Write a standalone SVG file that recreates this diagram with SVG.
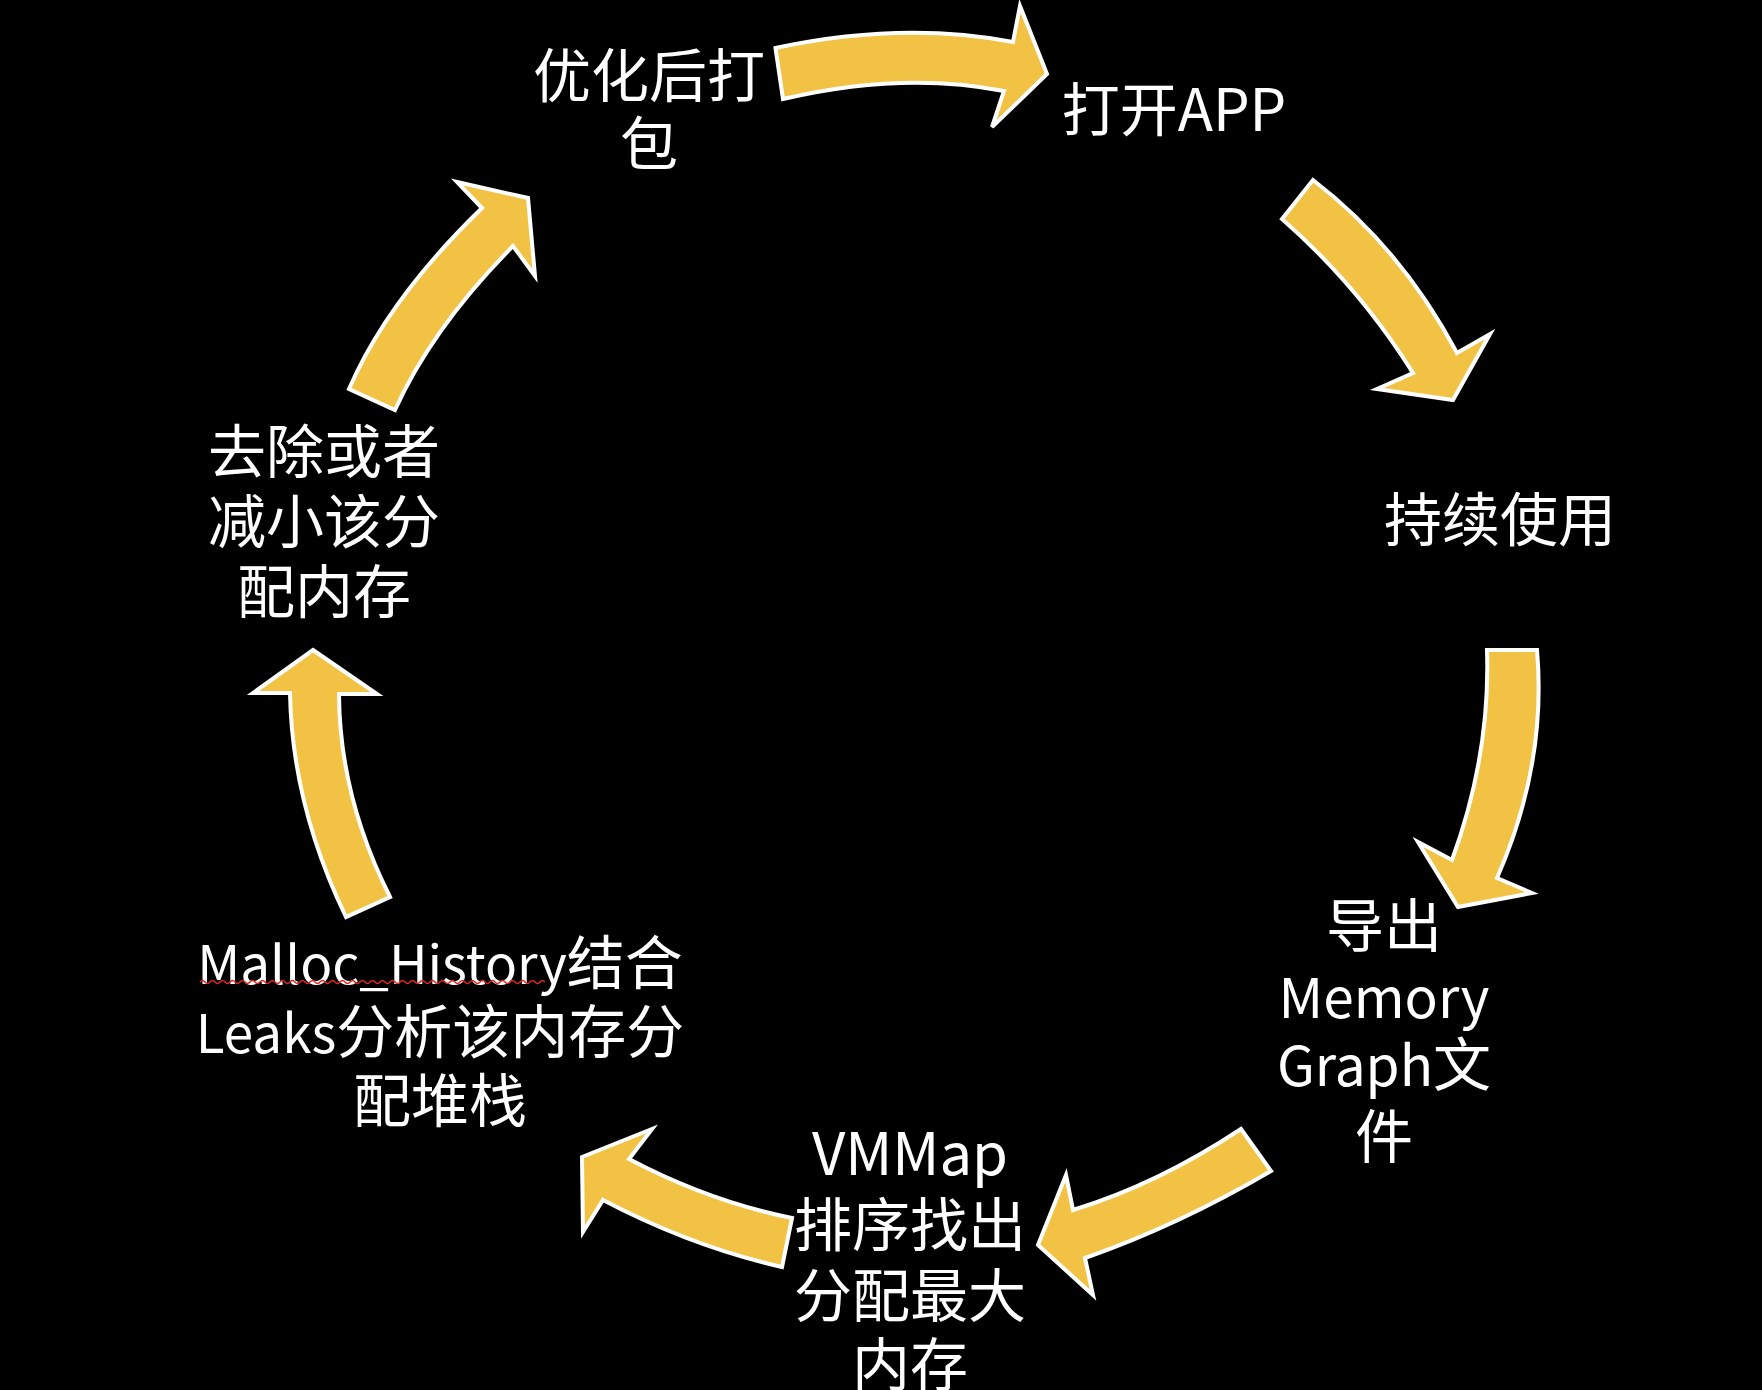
<svg xmlns="http://www.w3.org/2000/svg" width="1762" height="1390" viewBox="0 0 1762 1390">
<style>
.arr{fill:#F2C244;stroke:#FFFFFF;stroke-width:4;stroke-linejoin:miter}
.t{fill:#FFFFFF;font-family:"Noto Sans CJK SC","Noto Sans",sans-serif;font-size:58px;text-anchor:middle}
.lat{font-size:55px}
.lat2{font-size:53px}
</style>
<rect width="1762" height="1390" fill="#000000"/>
<g id="connectors">
<path class="arr" d="M 775.5,48 Q 902,21 1013,42 L 1020,6 L 1047,74 L 992,127 L 1004,91 Q 902.5,71 783,99 Z"/>
<path class="arr" d="M 1313,180 Q 1401,247.5 1457,353 L 1490,334 L 1453,400 L 1377,389 L 1413,373 Q 1358.5,286 1282,219 Z"/>
<path class="arr" d="M 1487,650 L 1537,650 Q 1547,764 1497,878 L 1532,893 L 1458,907 L 1418,842 L 1452,860 Q 1490.5,755 1487,650 Z"/>
<path class="arr" d="M 1241,1129 L 1271,1171 Q 1178,1225.5 1085,1258 L 1093,1295 L 1038,1245 L 1066,1175 L 1073,1210 Q 1157,1184.5 1241,1129 Z"/>
<path class="arr" d="M 792,1218 L 782,1267 Q 691.5,1246.5 603,1200 L 583,1232 L 582,1157 L 652,1129 L 629,1159 Q 709.5,1201.5 792,1218 Z"/>
<path class="arr" d="M 313,650 L 377,694 L 339,694 Q 339.5,796.5 390,897 L 346,917 Q 292,805 290,693 L 253,693 Z"/>
<path class="arr" d="M 349,389 Q 388,299 482,208 L 457,182 L 528,198 L 535,276 L 513,246 Q 432,328 395,410 Z"/>
</g>
<g id="node-package">
<text class="t" x="649" y="97">优化后打</text>
<text class="t" x="649" y="165">包</text>
</g>
<g id="node-open">
<text class="t" x="1174" y="131">打开APP</text>
</g>
<g id="node-use">
<text class="t" x="1500" y="541">持续使用</text>
</g>
<g id="node-export">
<text class="t" x="1384" y="947">导出</text>
<text class="t lat" x="1384" y="1018">Memory</text>
<text class="t" x="1384" y="1086"><tspan class="lat">Graph</tspan>文</text>
<text class="t" x="1384" y="1158">件</text>
</g>
<g id="node-vmmap">
<text class="t" x="910" y="1175">VMMap</text>
<text class="t" x="910" y="1246">排序找出</text>
<text class="t" x="910" y="1317">分配最大</text>
<text class="t" x="910" y="1386">内存</text>
</g>
<g id="node-malloc">
<text class="t" x="440" y="984"><tspan class="lat2">Malloc_History</tspan>结合</text>
<text class="t" x="440" y="1053"><tspan class="lat2">Leaks</tspan>分析该内存分</text>
<text class="t" x="440" y="1122">配堆栈</text>
<path d="M 200,982 q 2.5,-3 5,0 t 5,0 t 5,0 t 5,0 t 5,0 t 5,0 t 5,0 t 5,0 t 5,0 t 5,0 t 5,0 t 5,0 t 5,0 t 5,0 t 5,0 t 5,0 t 5,0 t 5,0 t 5,0 t 5,0 t 5,0 t 5,0 t 5,0 t 5,0 t 5,0 t 5,0 t 5,0 t 5,0 t 5,0 t 5,0 t 5,0 t 5,0 t 5,0 t 5,0 t 5,0 t 5,0 t 5,0 t 5,0 t 5,0 t 5,0 t 5,0 t 5,0 t 5,0 t 5,0 t 5,0 t 5,0 t 5,0 t 5,0 t 5,0 t 5,0 t 5,0 t 5,0 t 5,0 t 5,0 t 5,0 t 5,0 t 5,0 t 5,0 t 5,0 t 5,0 t 5,0 t 5,0 t 5,0 t 5,0 t 5,0 t 5,0 t 5,0 t 5,0 t 5,0" fill="none" stroke="#E0281E" stroke-width="1.5"/>
</g>
<g id="node-reduce">
<text class="t" x="324" y="473">去除或者</text>
<text class="t" x="324" y="543">减小该分</text>
<text class="t" x="324" y="613">配内存</text>
</g>
</svg>
